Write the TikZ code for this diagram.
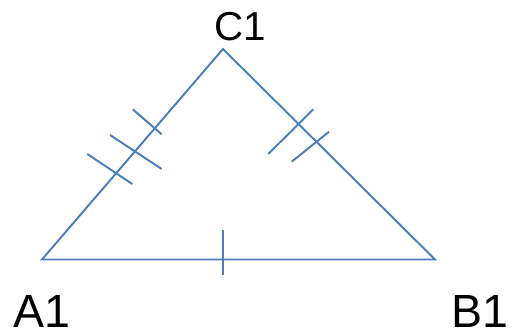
\documentclass[tikz,border=0pt]{standalone}
\usepackage{fontspec}
\setmainfont{Liberation Sans}
\definecolor{edgeblue}{HTML}{4A7EBB}
\tikzset{
  side/.style={draw=edgeblue,line width=1.1pt,line join=miter},
  tickmark/.style={draw=edgeblue,line width=1.1pt},
  vlabel/.style={inner sep=0pt,anchor=base,font=\fontsize{26.5}{30}\selectfont}
}

\begin{document}
\begin{tikzpicture}[x=0.02cm,y=-0.02cm]
  \useasboundingbox (0,0) rectangle (512,335);
  % vertices
  \coordinate (A) at (42,259.5);
  \coordinate (B) at (435,259.5);
  \coordinate (C) at (223,49);
  \draw[side] (A) -- (B) -- (C) -- cycle;
  % three marks on A1C1
  \draw[tickmark] (132.7,109.3) -- (161.7,134.3);
  \draw[tickmark] (110,135) -- (161.7,169);
  \draw[tickmark] (87.3,154) -- (132.3,184);
  % two marks on C1B1
  \draw[tickmark] (313.3,109.3) -- (268.3,154);
  \draw[tickmark] (329,131.7) -- (291.7,161.7);
  % one mark on A1B1
  \draw[tickmark] (223,230) -- (223,275);
  % labels
  \node[vlabel] (A1) at (41.5,327.5) {A1};
  \node[vlabel] (B1) at (480,327.5) {B1};
  \node[vlabel,font=\fontsize{23}{26}\selectfont] (C1) at (240,40) {C1};
\end{tikzpicture}
\end{document}
